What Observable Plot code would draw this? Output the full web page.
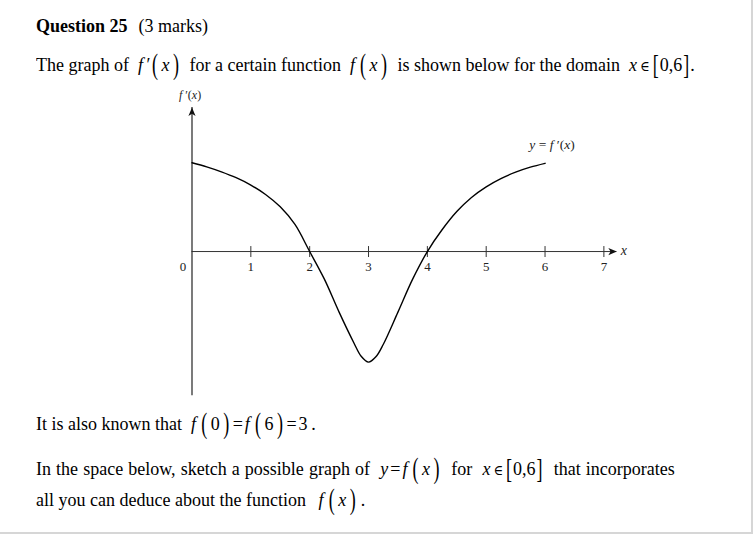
<!DOCTYPE html>
<html>
<head>
<meta charset="utf-8">
<script src="https://cdn.jsdelivr.net/npm/d3@7"></script>
<script src="https://cdn.jsdelivr.net/npm/@observablehq/plot@0.6"></script>
<style>
  html, body { margin: 0; padding: 0; background: #fff; }
  #page { position: relative; width: 753px; height: 534px; box-sizing: border-box;
          border-right: 2px solid #d6d6d6; border-bottom: 2px solid #d6d6d6; overflow: hidden;
          font-family: "Liberation Serif", "Times New Roman", serif; color: #000; }
  .ln { position: absolute; left: 36px; font-size: 18px; line-height: 18px; white-space: nowrap;
        transform: scale(1, 1.07); transform-origin: 0 15px; }
  .ln i { font-style: italic; font-family: "Liberation Serif", "Times New Roman", serif; }
  .p { display: inline-block; transform: scale(1, 1.5); line-height: 18px; margin: 0 1.5px; }
  .b { display: inline-block; transform: scale(1, 1.45); line-height: 18px; margin: 0 1px; }
  .v { margin: 0 2px; }
  .eq { margin: 0 2px; }
  .el { font-family: "DejaVu Serif", serif; font-size: 13px; margin: 0 2px 0 3px; }
  #chart { position: absolute; left: 0; top: 80px; }
  #chart svg, #chart svg text { font-family: "Liberation Serif", "Times New Roman", serif !important; }
</style>
</head>
<body>
<div id="page">
  <div class="ln" style="top:17px"><b>Question 25</b><span style="margin-left:11px">(3 marks)</span></div>
  <div class="ln" style="top:56px">The graph of&nbsp; <i>f</i>&thinsp;′<span class="p">(</span><i class="v">x</i><span class="p">)</span>&nbsp; for a certain function&nbsp; <i>f</i>&thinsp;<span class="p">(</span><i class="v">x</i><span class="p">)</span>&nbsp; is shown below for the domain&nbsp; <i>x</i><span class="el">∈</span><span class="b">[</span>0,6<span class="b">]</span>.</div>
  <div class="ln" style="top:415px">It is also known that&nbsp; <i>f</i>&thinsp;<span class="p">(</span><span class="v">0</span><span class="p">)</span><span class="eq">=</span><i>f</i>&thinsp;<span class="p">(</span><span class="v">6</span><span class="p">)</span><span class="eq">=</span>3&thinsp;.</div>
  <div class="ln" style="top:460px; word-spacing:0.6px">In the space below, sketch a possible graph of&nbsp; <i>y</i><span class="eq">=</span><i>f</i>&thinsp;<span class="p">(</span><i class="v">x</i><span class="p">)</span>&nbsp; for&nbsp; <i>x</i><span class="el">∈</span><span class="b">[</span>0,6<span class="b">]</span>&nbsp; that incorporates</div>
  <div class="ln" style="top:491px">all you can deduce about the function&nbsp;&thinsp; <i>f</i>&thinsp;<span class="p">(</span><i class="v">x</i><span class="p">)</span>&thinsp;.</div>
  <div id="chart"></div>
</div>
<script>
// ---- data ----
const xValues = [0, 0.25, 0.5, 0.75, 1, 1.25, 1.5, 1.75, 2, 2.25, 2.5, 2.75, 2.875, 3, 3.125, 3.25, 3.5, 3.75, 4, 4.25, 4.5, 4.75, 5, 5.25, 5.5, 5.75, 6];
const yValues = [1.51, 1.44, 1.355, 1.255, 1.13, 0.97, 0.76, 0.46, 0, -0.47, -1.03, -1.55, -1.78, -1.88, -1.79, -1.58, -1.03, -0.47, 0, 0.37, 0.68, 0.92, 1.10, 1.24, 1.35, 1.435, 1.50];
const xTicks = [1, 2, 3, 4, 5, 6, 7];
const xTickLabels = ["1", "2", "3", "4", "5", "6", "7"];
const originLabel = ["0"];
const xAxisEnd = 7.22;
const yAxisRange = [-2.45, 2.45];
const curveLabel = "y = f′(x)";
const yAxisLabel = "f′(x)";
const xAxisLabel = "x";

const points = xValues.map((x, i) => ({x, y: yValues[i]}));
const ticks = xTicks.map((x, i) => ({x, label: xTickLabels[i]}));

const serif = "Liberation Serif";

// shapes (pixel-sized symbols)
const tickSymbol = { draw(ctx) { ctx.moveTo(0, -5.5); ctx.lineTo(0, 5.5); } };
const arrowSymbol = { draw(ctx) { ctx.moveTo(0, 0); ctx.lineTo(3.6, 8.5); ctx.lineTo(0, 6.3); ctx.lineTo(-3.6, 8.5); ctx.closePath(); } };

const chart = Plot.plot({
  width: 753,
  height: 330,
  marginLeft: 192,
  marginRight: 148,
  marginTop: 27,
  marginBottom: 14,
  x: {domain: [0, 7], axis: null},
  y: {domain: yAxisRange, axis: null},
  style: {background: "transparent", color: "black", overflow: "visible", fontFamily: "'Liberation Serif', serif"},
  marks: [
    Plot.ruleY([0], {x1: 0, x2: xAxisEnd, stroke: "#333", strokeWidth: 1}),
    Plot.ruleX([0], {y1: yAxisRange[0], y2: yAxisRange[1], stroke: "#333", strokeWidth: 1.3}),
    Plot.dot([{x: 0, y: yAxisRange[1]}], {x: "x", y: "y", symbol: arrowSymbol, fill: "#111", stroke: "none", r: 4}),
    Plot.dot([{x: xAxisEnd, y: 0}], {x: "x", y: "y", symbol: arrowSymbol, rotate: 90, fill: "#111", stroke: "none", r: 4}),
    Plot.dot(ticks, {x: "x", y: 0, symbol: tickSymbol, stroke: "#333", fill: "none", strokeWidth: 1, r: 4}),
    Plot.text(ticks, {x: "x", y: 0, text: "label", dy: 15, fontSize: 13, fontFamily: serif, fill: "#222"}),
    Plot.text(originLabel, {x: 0, y: 0, text: d => d, dx: -9, dy: 15, fontSize: 13, fontFamily: serif, fill: "#222"}),
    Plot.line(points, {x: "x", y: "y", curve: "catmull-rom", stroke: "#000", strokeWidth: 1.4}),
    Plot.text([curveLabel], {x: () => xValues[xValues.length - 1], y: () => yValues[yValues.length - 1], text: d => d, dx: 7, dy: -19, fontSize: 13.5, fontFamily: serif, fill: "#222"}),
    Plot.text([yAxisLabel], {x: () => 0, y: () => yAxisRange[1], text: d => d, dx: -2, dy: -12, fontSize: 12, fontFamily: serif, fill: "#222"}),
    Plot.text([xAxisLabel], {x: () => xAxisEnd, y: () => 0, text: d => d, dx: 4, dy: -1, textAnchor: "start", fontSize: 14, fontFamily: serif, fontStyle: "italic", fill: "#222"})
  ]
});

// italicise the variable letters inside the two math labels
d3.select(chart).selectAll("text").each(function () {
  const t = this.textContent;
  if (t === curveLabel || t === yAxisLabel) {
    const parts = t === curveLabel
      ? [["y", true], [" = ", false], ["f", true], [" ′(", false], ["x", true], [")", false]]
      : [["f", true], [" ′(", false], ["x", true], [")", false]];
    const sel = d3.select(this.querySelector("tspan") || this);
    sel.text(null);
    parts.forEach(([s, it]) => sel.append("tspan").attr("font-style", it ? "italic" : null).text(s));
  }
});
d3.select(chart).selectAll("text").style("font-family", "'Liberation Serif', 'Times New Roman', serif");

document.getElementById("chart").appendChild(chart);
</script>
</body>
</html>
